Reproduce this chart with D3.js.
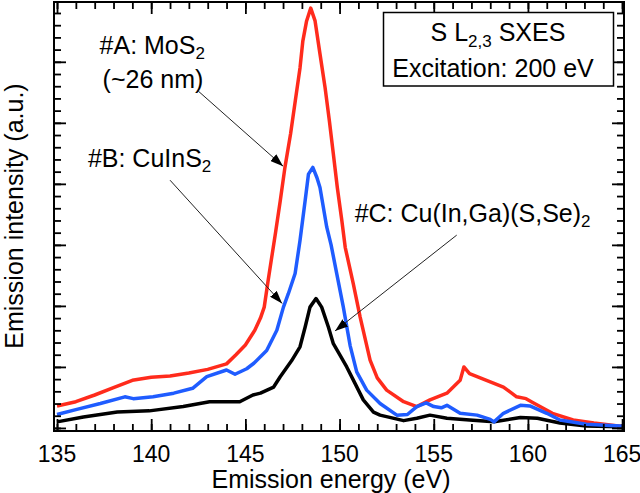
<!DOCTYPE html>
<html>
<head>
<meta charset="utf-8">
<script src="https://cdn.jsdelivr.net/npm/d3@7"></script>
<style>
  html, body { margin: 0; padding: 0; background: #fff; }
  svg { display: block; font-family: "Liberation Sans", Arial, Helvetica, sans-serif; }
</style>
</head>
<body>
<svg id="chart" width="640" height="493"></svg>
<script>
// ---------- data ----------
const energyA = [135.0,136.0,137.0,138.0,139.0,140.0,141.0,142.0,143.0,144.0,144.5,145.0,145.5,145.8,146.0,146.2,146.4,146.6,146.85,147.1,147.4,147.65,147.9,148.05,148.25,148.47,148.7,148.96,149.23,149.46,149.67,149.88,150.12,150.3,150.73,151.09,151.62,152.0,152.5,153.4,154.1,154.8,155.7,156.4,156.6,156.9,157.8,158.7,159.4,159.9,160.3,161.3,162.4,163.5,164.9,165.0];
const intensityA = [0.36,0.43,0.54,0.66,0.78,0.83,0.85,0.90,0.96,1.05,1.20,1.36,1.60,1.80,1.98,2.40,2.80,3.20,3.72,4.27,4.82,5.36,5.90,6.34,6.67,6.88,6.67,6.13,5.58,5.03,4.49,3.94,3.40,2.96,2.36,1.82,1.11,0.82,0.62,0.43,0.35,0.46,0.57,0.78,1.00,0.89,0.78,0.67,0.51,0.48,0.41,0.24,0.13,0.08,0.03,0.03];

const energyB = [135.0,136.0,137.3,138.6,139.05,140.1,141.2,142.2,142.95,144.0,144.45,145.07,145.45,146.13,146.67,147.02,147.28,147.64,147.9,148.17,148.35,148.58,148.8,148.96,149.32,149.55,149.85,150.2,150.56,150.91,151.44,152.15,153.04,153.6,154.1,154.6,155.0,155.4,155.7,156.4,157.3,158.0,158.2,158.7,159.6,160.1,161.0,161.7,163.1,164.9,165.0];
const intensityB = [0.22,0.30,0.40,0.51,0.48,0.51,0.57,0.65,0.84,0.95,0.88,0.97,1.06,1.27,1.60,1.98,2.20,2.53,3.07,3.72,4.16,4.27,4.10,3.94,3.29,3.00,2.53,1.98,1.35,0.92,0.62,0.40,0.21,0.22,0.35,0.41,0.35,0.33,0.37,0.24,0.21,0.14,0.10,0.24,0.37,0.36,0.24,0.13,0.06,0.03,0.03];

const energyC = [135.0,136.4,138.2,139.9,141.7,143.1,144.7,145.4,145.8,146.5,146.85,147.45,147.9,148.17,148.43,148.75,149.05,149.41,149.67,150.03,150.38,150.82,151.26,151.8,152.15,153.4,154.1,154.8,155.7,156.9,158.2,159.6,160.5,161.7,163.1,164.9,165.0];
const intensityC = [0.10,0.18,0.26,0.28,0.35,0.43,0.43,0.54,0.57,0.67,0.84,1.10,1.33,1.65,1.98,2.12,1.98,1.65,1.38,1.19,1.00,0.73,0.46,0.26,0.21,0.12,0.16,0.21,0.16,0.13,0.10,0.17,0.16,0.08,0.03,0.02,0.02];

const xMajorTicks = [135,140,145,150,155,160,165];
const xMinorTicks = d3.range(135, 165.5, 1);
const yMajorTicks = [0,1,2,3,4,5,6];
const yMinorTicks = d3.range(0, 7.0, 0.2);

const seriesNames = ["#C: Cu(In,Ga)(S,Se)2", "#A: MoS2", "#B: CuInS2"];
const seriesColors = ["#000000", "#ff2b1c", "#1f5cff"];

// ---------- layout ----------
const svg = d3.select("#chart");
const L = 54, R = 624, T = 2, B = 431;
const x = d3.scaleLinear().domain([134.84, 165.1]).range([L, R]);
const y = d3.scaleLinear().domain([-0.05, 6.98]).range([B, T]);

// curves
const series = [
  {e: energyC, v: intensityC, c: seriesColors[0]},
  {e: energyA, v: intensityA, c: seriesColors[1]},
  {e: energyB, v: intensityB, c: seriesColors[2]}
];
const line = d3.line().x(d => x(d[0])).y(d => y(d[1])).curve(d3.curveLinear);
const plot = svg.append("g");
series.forEach(s => {
  plot.append("path")
    .datum(s.e.map((e, i) => [e, s.v[i]]))
    .attr("d", line)
    .attr("fill", "none")
    .attr("stroke", s.c)
    .attr("stroke-width", 3.5)
    .attr("stroke-linejoin", "round");
});

// axes with inward ticks
function addAxis(gen, transform, ticks, size) {
  const g = svg.append("g").attr("transform", transform)
    .call(gen.tickValues(ticks).tickSize(size).tickSizeOuter(0).tickFormat(""));
  g.select(".domain").remove();
  g.selectAll(".tick line").attr("stroke", "#000").attr("stroke-width", 1.8);
  return g;
}
// bottom
addAxis(d3.axisTop(x), `translate(0,${B})`, xMinorTicks, 7);
addAxis(d3.axisTop(x), `translate(0,${B})`, xMajorTicks, 12);
// top
addAxis(d3.axisBottom(x), `translate(0,${T})`, xMinorTicks, 7);
addAxis(d3.axisBottom(x), `translate(0,${T})`, xMajorTicks, 12);
// left
addAxis(d3.axisRight(y), `translate(${L},0)`, yMinorTicks, 7);
addAxis(d3.axisRight(y), `translate(${L},0)`, yMajorTicks, 12);
// right
addAxis(d3.axisLeft(y), `translate(${R},0)`, yMinorTicks, 7);
addAxis(d3.axisLeft(y), `translate(${R},0)`, yMajorTicks, 12);

// x tick labels
svg.append("g").selectAll("text").data(xMajorTicks).join("text")
  .attr("x", d => x(d)).attr("y", 461.5)
  .attr("text-anchor", "middle").attr("font-size", 23).attr("fill", "#000")
  .text(d => d);

// frame
svg.append("rect").attr("x", L).attr("y", T).attr("width", R - L).attr("height", B - T)
  .attr("fill", "none").attr("stroke", "#000").attr("stroke-width", 2);

// axis titles
svg.append("text").attr("x", 331).attr("y", 488).attr("text-anchor", "middle")
  .attr("font-size", 25).text("Emission energy (eV)");
svg.append("text").attr("transform", "translate(23,216) rotate(-90)").attr("text-anchor", "middle")
  .attr("font-size", 25).text("Emission intensity (a.u.)");

// info box
svg.append("rect").attr("x", 383.5).attr("y", 12.5).attr("width", 230).attr("height", 73.5)
  .attr("fill", "#fff").attr("stroke", "#000").attr("stroke-width", 1.5);
const t1 = svg.append("text").attr("x", 498).attr("y", 40.7).attr("text-anchor", "middle").attr("font-size", 25);
t1.append("tspan").text("S L");
t1.append("tspan").attr("font-size", 17).attr("dy", 6).text("2,3");
t1.append("tspan").attr("dy", -6).text(" SXES");
svg.append("text").attr("x", 493).attr("y", 76.7).attr("text-anchor", "middle").attr("font-size", 25)
  .text("Excitation: 200 eV");

// labels with subscripts
function subLabel(px, py, main, sub, tail) {
  const t = svg.append("text").attr("x", px).attr("y", py).attr("font-size", 25);
  t.append("tspan").text(main);
  t.append("tspan").attr("font-size", 17).attr("dy", 5).text(sub);
  if (tail) t.append("tspan").attr("dy", -5).text(tail);
  return t;
}
subLabel(x(137.26), y(6.12), "#A: MoS", "2");
svg.append("text").attr("x", x(137.42)).attr("y", y(5.57)).attr("font-size", 25).text("(~26 nm)");
subLabel(x(136.64), y(4.28), "#B: CuInS", "2");
subLabel(x(150.8), y(3.38), "#C: Cu(In,Ga)(S,Se)", "2");

// arrows
const defs = svg.append("defs");
defs.append("marker").attr("id", "ah").attr("viewBox", "0 0 13 9").attr("refX", 13).attr("refY", 4.5)
  .attr("markerWidth", 13).attr("markerHeight", 9).attr("markerUnits", "userSpaceOnUse")
  .attr("orient", "auto")
  .append("path").attr("d", "M0,0 L13,4.5 L0,9 Z").attr("fill", "#000");
const arrows = [
  [[142.5, 5.52], [147.0, 4.29]],
  [[141.0, 4.06], [146.95, 2.04]],
  [[156.22, 3.16], [149.76, 1.59]]
];
arrows.forEach(a => {
  svg.append("line")
    .attr("x1", x(a[0][0])).attr("y1", y(a[0][1]))
    .attr("x2", x(a[1][0])).attr("y2", y(a[1][1]))
    .attr("stroke", "#222").attr("stroke-width", 1)
    .attr("marker-end", "url(#ah)");
});
</script>
</body>
</html>
